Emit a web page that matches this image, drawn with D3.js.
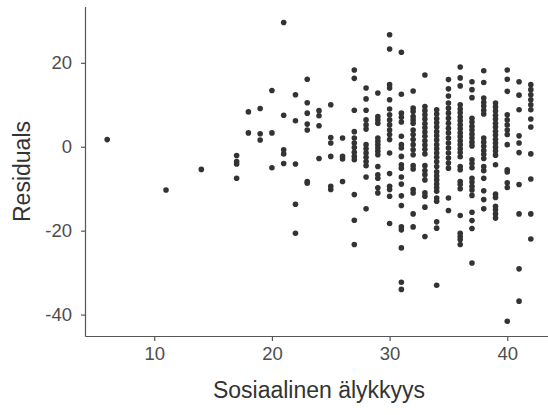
<!DOCTYPE html>
<html>
<head>
<meta charset="utf-8">
<script src="https://cdn.jsdelivr.net/npm/d3@7"></script>
<style>
  html, body { margin: 0; padding: 0; background: #fff; }
  svg { display: block; font-family: "Liberation Sans", Arial, sans-serif; }
</style>
</head>
<body>
<svg id="chart" width="548" height="415"></svg>
<script>
// Sosiaalinen älykkyys values (x) and the residuals observed at each
const xGroups = [6, 11, 14, 17, 18, 19, 20, 21, 22, 23, 24, 25, 26, 27, 28, 29, 30, 31, 32, 33, 34, 35, 36, 37, 38, 39, 40, 41, 42];
const residualsByGroup = [
  [1.7],
  [-10.3],
  [-5.4],
  [-2.1, -3.5, -4.1, -7.5],
  [8.3, 3.3],
  [9.1, 3.1, 1.6],
  [13.4, 3.3, -5.0],
  [29.6, 7.5, -0.7, -1.7, -4.0],
  [12.4, 6.2, -4.1, -13.7, -20.6],
  [16.1, 10.5, 8.0, 5.4, 4.0, -8.3, -8.7],
  [8.6, 7.4, 5.0, -2.8],
  [10.0, 2.2, 0.9, -2.3, -9.4, -10.2],
  [2.1, -2.3, -2.9, -8.3],
  [18.3, 16.3, 8.7, 3.6, 2.1, 0.9, -0.2, -1.3, -2.3, -3.1, -11.4, -17.5, -23.3],
  [14.0, 11.4, 8.7, 6.4, 5.2, 4.2, 0.5, -0.5, -1.5, -2.5, -3.5, -4.5, -7.2, -14.8],
  [12.8, 7.2, 6.4, 5.6, 2.1, 1.3, 0.5, -0.3, -1.1, -1.9, -4.7, -6.7, -7.5, -9.8, -11.0],
  [26.7, 23.3, 14.8, 14.0, 11.2, 9.0, 7.6, 6.4, 5.2, 4.0, 2.9, 1.7, -1.5, -6.4, -9.4, -10.2, -11.8, -18.3],
  [22.5, 12.5, 8.0, 7.0, 5.9, 2.5, 0.5, -0.3, -2.3, -4.3, -5.1, -7.2, -8.9, -11.7, -14.0, -19.1, -19.8, -24.1, -32.3, -34.0],
  [13.3, 9.2, 8.4, 7.2, 6.4, 5.6, 4.0, 2.9, 1.7, 0.5, -0.7, -1.9, -4.5, -5.3, -10.2, -11.0, -16.0, -19.1],
  [17.1, 9.6, 8.6, 7.6, 6.6, 5.5, 4.5, 3.5, 2.5, 1.4, 0.4, -0.6, -1.7, -4.5, -5.7, -6.7, -7.9, -11.0, -11.8, -14.4, -21.4],
  [8.8, 7.8, 6.7, 5.7, 4.7, 3.6, 2.6, 1.6, 0.5, -0.5, -1.5, -2.5, -3.6, -4.7, -6.0, -7.0, -7.9, -8.9, -9.8, -10.6, -12.2, -13.0, -17.9, -19.4, -33.0],
  [16.0, 13.8, 12.1, 10.4, 9.2, 8.0, 6.8, 5.6, 4.4, 3.3, 2.1, 0.9, -0.3, -1.5, -2.7, -3.9, -5.1, -12.2, -15.2],
  [19.0, 16.4, 14.5, 10.0, 9.0, 8.1, 7.1, 6.2, 5.2, 4.3, 3.3, 2.4, 1.4, 0.5, -0.5, -1.4, -2.4, -4.7, -5.5, -8.3, -9.0, -10.0, -16.4, -20.6, -21.4, -22.1, -23.3],
  [15.5, 13.6, 11.7, 6.8, 5.9, 4.9, 4.0, 3.0, 2.1, 1.1, 0.2, -3.1, -4.0, -5.0, -7.5, -8.4, -9.4, -10.3, -11.6, -15.6, -17.6, -19.5, -27.7],
  [18.1, 15.3, 11.6, 10.6, 9.7, 8.7, 7.8, 2.1, 1.1, 0.1, -0.9, -1.8, -2.8, -4.7, -5.7, -7.5, -10.5, -12.6, -14.8],
  [10.4, 9.5, 8.5, 7.5, 6.6, 5.6, 4.7, 3.7, 2.8, 1.8, 0.9, -0.1, -1.0, -2.0, -4.3, -11.3, -12.1, -14.2, -15.0, -16.0, -17.0],
  [18.3, 16.1, 13.2, 7.6, 6.4, 5.2, 4.0, 2.9, 0.5, -5.5, -6.0, -8.6, -9.7, -41.6],
  [15.5, 12.3, 8.8, 2.6, 0.9, -1.4, -9.0, -16.0, -29.1, -36.8],
  [14.8, 13.6, 12.4, 11.2, 10.0, 8.8, 6.6, 4.7, -1.7, -7.7, -16.0, -22.0]
];
const xTicks = [10, 20, 30, 40];
const yTicks = [-40, -20, 0, 20];
const xTitle = "Sosiaalinen älykkyys";
const yTitle = "Residuals";

const points = [];
xGroups.forEach((x, i) => residualsByGroup[i].forEach(r => points.push({x: x, y: r})));

const svg = d3.select("#chart");
const panel = {left: 86, right: 552, top: 7, bottom: 336};

function expand(ext) {
  const pad = (ext[1] - ext[0]) * 0.05;
  return [ext[0] - pad, ext[1] + pad];
}
const x = d3.scaleLinear().domain(expand(d3.extent(points, d => d.x))).range([panel.left, panel.right]);
const y = d3.scaleLinear().domain([-45.1, 33.3]).range([panel.bottom, panel.top]);

const axisColor = "#555555";
const tickTextColor = "#4d4d4d";
const plainNumber = d => String(d);

// points
svg.append("g")
  .selectAll("circle")
  .data(points)
  .join("circle")
  .attr("cx", d => x(d.x))
  .attr("cy", d => y(d.y))
  .attr("r", 2.8)
  .attr("fill", "#333333");

// x axis
const gx = svg.append("g")
  .attr("transform", `translate(0,${panel.bottom})`)
  .call(d3.axisBottom(x).tickValues(xTicks).tickFormat(plainNumber).tickSize(5).tickPadding(6).tickSizeOuter(0));
gx.select(".domain").attr("stroke", axisColor).attr("stroke-width", 1.2)
  .attr("d", `M${panel.left - 0.6},0.5H${panel.right}`);
gx.selectAll(".tick line").attr("stroke", axisColor).attr("stroke-width", 1.2);
gx.selectAll(".tick text").attr("fill", tickTextColor).attr("font-size", 18.5)
  .attr("font-family", "Liberation Sans, Arial, sans-serif");

// y axis
const gy = svg.append("g")
  .attr("transform", `translate(${panel.left},0)`)
  .call(d3.axisLeft(y).tickValues(yTicks).tickFormat(plainNumber).tickSize(5).tickPadding(9).tickSizeOuter(0));
gy.select(".domain").attr("stroke", axisColor).attr("stroke-width", 1.2)
  .attr("d", `M-0.5,${panel.top}V${panel.bottom + 0.5}`);
gy.selectAll(".tick line").attr("stroke", axisColor).attr("stroke-width", 1.2);
gy.selectAll(".tick text").attr("fill", tickTextColor).attr("font-size", 18.5)
  .attr("font-family", "Liberation Sans, Arial, sans-serif");

// titles
svg.append("text")
  .attr("x", (panel.left + panel.right) / 2)
  .attr("y", 398)
  .attr("text-anchor", "middle")
  .attr("font-size", 23)
  .attr("fill", "#333333")
  .text(xTitle);

svg.append("text")
  .attr("transform", `translate(30,${(panel.top + panel.bottom) / 2}) rotate(-90)`)
  .attr("text-anchor", "middle")
  .attr("font-size", 23)
  .attr("fill", "#333333")
  .text(yTitle);
</script>
</body>
</html>
